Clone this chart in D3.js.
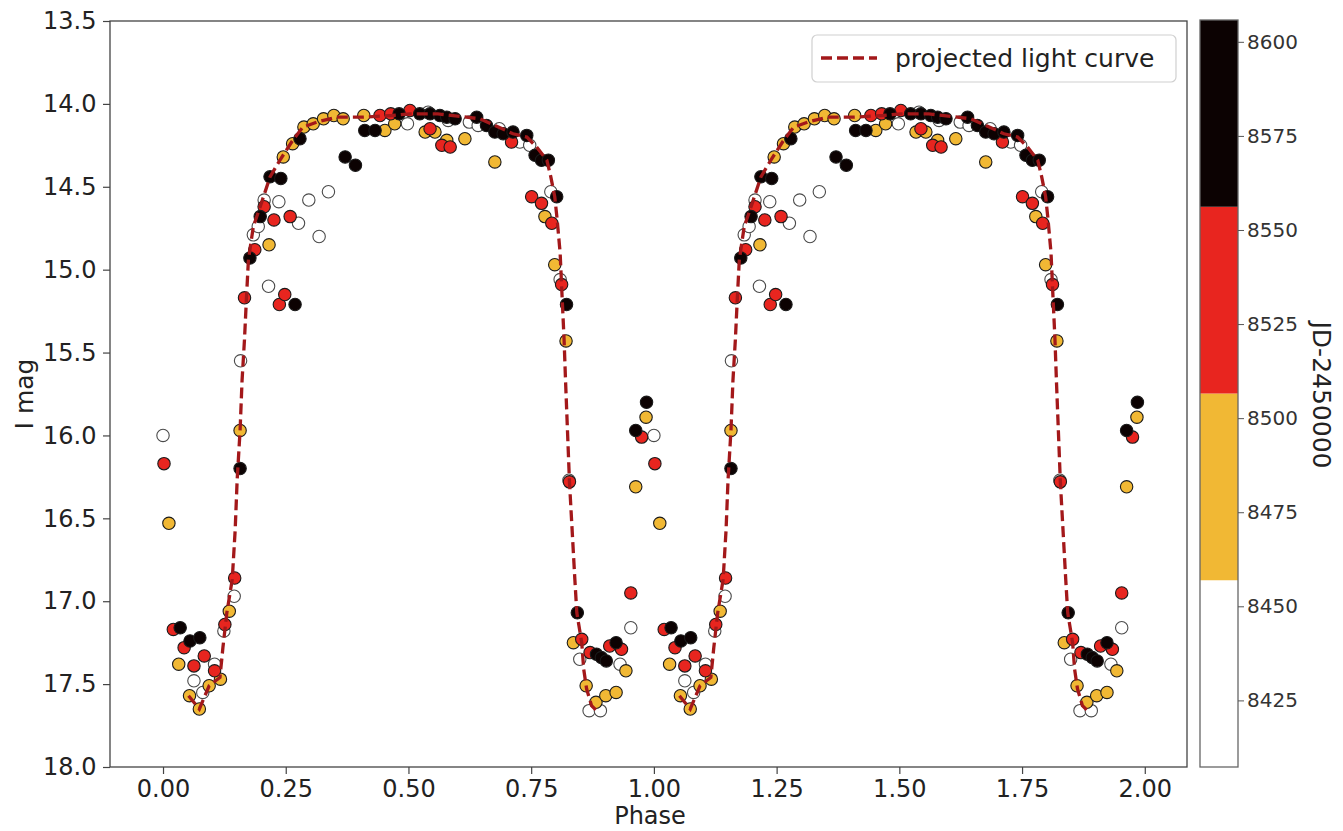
<!DOCTYPE html>
<html><head><meta charset="utf-8">
<script src="https://cdn.jsdelivr.net/npm/d3@7"></script>
<style>body{margin:0;background:#fff;} svg{display:block;font-family:"DejaVu Sans",sans-serif;}</style>
</head><body>
<script>
// ---- data (phase, I mag) for one cycle; the figure repeats it at phase+1 ----
const jdGroups = [8432, 8482, 8531, 8581];
const whitePts = [[0.000,16.00],[0.145,16.97],[0.124,17.18],[0.105,17.38],[0.063,17.48],[0.081,17.55],[0.158,15.55],
 [0.215,15.10],[0.184,14.79],[0.194,14.74],[0.276,14.72],[0.318,14.80],[0.206,14.58],[0.236,14.59],[0.297,14.58],
 [0.337,14.53],[0.498,14.12],[0.540,14.05],[0.581,14.10],[0.624,14.11],[0.642,14.13],[0.685,14.15],[0.727,14.23],
 [0.747,14.25],[0.790,14.53],[0.809,15.06],[0.827,16.27],[0.849,17.35],[0.931,17.38],[0.868,17.66],[0.891,17.66],[0.953,17.16]];
const yellowPts = [[0.012,16.53],[0.157,15.97],[0.135,17.06],[0.032,17.38],[0.117,17.47],[0.094,17.51],[0.054,17.57],
 [0.074,17.65],[0.216,14.85],[0.245,14.32],[0.264,14.24],[0.287,14.14],[0.306,14.12],[0.327,14.09],[0.348,14.07],
 [0.367,14.09],[0.409,14.07],[0.452,14.16],[0.472,14.12],[0.534,14.17],[0.554,14.17],[0.578,14.22],[0.615,14.21],
 [0.676,14.35],[0.778,14.68],[0.798,14.97],[0.821,15.43],[0.836,17.25],[0.963,16.31],[0.984,15.89],[0.862,17.51],
 [0.882,17.61],[0.902,17.57],[0.923,17.55],[0.943,17.42]];
const redPts = [[0.002,16.17],[0.146,16.86],[0.126,17.14],[0.021,17.17],[0.043,17.28],[0.084,17.33],[0.063,17.39],
 [0.105,17.42],[0.166,15.17],[0.237,15.21],[0.248,15.15],[0.187,14.88],[0.226,14.70],[0.259,14.68],[0.206,14.62],
 [0.442,14.07],[0.464,14.06],[0.503,14.04],[0.544,14.15],[0.568,14.25],[0.585,14.26],[0.710,14.23],[0.751,14.56],
 [0.771,14.60],[0.792,14.72],[0.812,15.09],[0.828,16.28],[0.853,17.23],[0.870,17.31],[0.910,17.27],[0.934,17.29],
 [0.975,16.01],[0.953,16.95]];
const blackPts = [[0.157,16.20],[0.035,17.16],[0.055,17.24],[0.075,17.22],[0.177,14.93],[0.198,14.68],[0.269,15.21],
 [0.218,14.44],[0.240,14.45],[0.279,14.21],[0.371,14.32],[0.392,14.37],[0.411,14.16],[0.432,14.16],[0.481,14.06],
 [0.523,14.06],[0.544,14.06],[0.564,14.07],[0.578,14.08],[0.595,14.09],[0.639,14.08],[0.659,14.13],[0.676,14.17],
 [0.693,14.18],[0.713,14.17],[0.741,14.19],[0.758,14.31],[0.771,14.34],[0.785,14.34],[0.802,14.56],[0.822,15.21],
 [0.844,17.07],[0.883,17.32],[0.893,17.34],[0.903,17.36],[0.923,17.25],[0.963,15.97],[0.985,15.80]];
const curvePhase = [0.052,0.074,0.094,0.116,0.122,0.130,0.141,0.147,0.151,0.157,0.161,0.166,0.170,0.174,0.184,0.198,
 0.218,0.238,0.262,0.285,0.313,0.354,0.407,0.468,0.503,0.560,0.646,0.713,0.741,0.761,0.782,0.790,0.798,0.803,0.809,
 0.812,0.817,0.820,0.828,0.839,0.843,0.853,0.857,0.863,0.873,0.883];
const curveMag = [17.57,17.65,17.51,17.46,17.28,17.07,16.87,16.57,16.27,15.97,15.67,15.42,15.17,14.94,14.74,14.62,
 14.44,14.34,14.23,14.14,14.11,14.08,14.08,14.07,14.06,14.06,14.09,14.18,14.20,14.26,14.34,14.44,14.56,14.70,14.90,
 15.10,15.42,15.67,16.28,16.87,17.07,17.25,17.41,17.53,17.63,17.66];
const cycles = [0, 1];
const xTicks = [0,0.25,0.5,0.75,1,1.25,1.5,1.75,2];
const yTicks = [13.5,14,14.5,15,15.5,16,16.5,17,17.5,18];
const cbTicks = [8425,8450,8475,8500,8525,8550,8575,8600];
const cbColors = ["#ffffff","#f1b834","#e8251f","#0c0202"];
const cbDomain = [8407.3, 8605.8];

const W = 1343, H = 831;
const svg = d3.select("body").append("svg").attr("width", W).attr("height", H);
const x = d3.scaleLinear().domain([-0.108, 2.086]).range([110, 1187]);
const y = d3.scaleLinear().domain([13.5, 18]).range([21, 767]);
const color = d3.scaleQuantize().domain(cbDomain).range(cbColors);

// points
const groups = [whitePts, yellowPts, redPts, blackPts];
const allPts = [];
cycles.forEach(c => groups.forEach((g, i) => g.forEach(p => allPts.push({ph: p[0] + c, mag: p[1], jd: jdGroups[i]}))));
allPts.sort((a, b) => a.jd - b.jd);
svg.append("g").selectAll("circle").data(allPts).join("circle")
  .attr("cx", d => x(d.ph)).attr("cy", d => y(d.mag)).attr("r", 6.2)
  .attr("fill", d => color(d.jd))
  .attr("stroke", d => color(d.jd) === "#ffffff" ? "#4a4a4a" : "#1a1a1a")
  .attr("stroke-width", 1.1);

// curve
const line = d3.line().x(d => x(d[0])).y(d => y(d[1]));
cycles.forEach(c => {
  const pts = curvePhase.map((p, i) => [p + c, curveMag[i]]);
  svg.append("path").attr("d", line(pts)).attr("fill", "none")
    .attr("stroke", "#a3181a").attr("stroke-width", 3.3).attr("stroke-dasharray", "11,5");
});

// axes
const xAxis = svg.append("g").attr("transform", "translate(0,767)")
  .call(d3.axisBottom(x).tickValues(xTicks).tickFormat(d3.format(".2f")).tickSize(7).tickSizeOuter(0));
const yAxis = svg.append("g").attr("transform", "translate(110,0)")
  .call(d3.axisLeft(y).tickValues(yTicks).tickFormat(d3.format(".1f")).tickSize(7).tickSizeOuter(0));
[xAxis, yAxis].forEach(a => {
  a.selectAll("text").attr("font-size", 24).attr("fill", "#222").attr("font-family", "DejaVu Sans");
  a.selectAll("line").attr("stroke", "#444").attr("stroke-width", 1.2);
  a.select(".domain").remove();
});
xAxis.selectAll("text").attr("dy", "0.82em");
yAxis.selectAll("text").attr("dx", "-0.15em");
// frame
svg.append("rect").attr("x", 110).attr("y", 21).attr("width", 1077).attr("height", 746)
  .attr("fill", "none").attr("stroke", "#444").attr("stroke-width", 1.3);

// axis labels
svg.append("text").attr("x", 650).attr("y", 824).attr("text-anchor", "middle")
  .attr("font-size", 24).attr("fill", "#222").text("Phase");
svg.append("text").attr("transform", "translate(33,394) rotate(-90)").attr("text-anchor", "middle")
  .attr("font-size", 25).attr("fill", "#222").text("I mag");

// legend
const lg = svg.append("g");
lg.append("rect").attr("x", 812).attr("y", 35).attr("width", 364).attr("height", 47).attr("rx", 5)
  .attr("fill", "#fff").attr("fill-opacity", 0.85).attr("stroke", "#d0d0d0").attr("stroke-width", 1.2);
lg.append("line").attr("x1", 821).attr("x2", 877).attr("y1", 58).attr("y2", 58)
  .attr("stroke", "#a3181a").attr("stroke-width", 3.3).attr("stroke-dasharray", "11,5");
lg.append("text").attr("x", 895).attr("y", 58).attr("dy", "0.35em").attr("font-size", 25)
  .attr("fill", "#222").text("projected light curve");

// colorbar
const cb = d3.scaleLinear().domain(cbDomain).range([767, 20]);
const cbX = 1200, cbW = 38;
const step = (cbDomain[1] - cbDomain[0]) / cbColors.length;
const bins = cbColors.map((c, i) => ({c, lo: cbDomain[0] + i * step, hi: cbDomain[0] + (i + 1) * step}));
svg.append("g").selectAll("rect").data(bins).join("rect")
  .attr("x", cbX).attr("width", cbW).attr("y", d => cb(d.hi)).attr("height", d => cb(d.lo) - cb(d.hi))
  .attr("fill", d => d.c);
svg.append("rect").attr("x", cbX).attr("y", 20).attr("width", cbW).attr("height", 747)
  .attr("fill", "none").attr("stroke", "#666").attr("stroke-width", 1.3);
const cbAxis = svg.append("g").attr("transform", `translate(${cbX + cbW},0)`)
  .call(d3.axisRight(cb).tickValues(cbTicks).tickFormat(d3.format("d")).tickSize(6).tickSizeOuter(0));
cbAxis.select(".domain").remove();
cbAxis.selectAll("text").attr("font-size", 20).attr("fill", "#333").attr("font-family", "DejaVu Sans").attr("x", 9);
cbAxis.selectAll("line").attr("stroke", "#555");
svg.append("text").attr("transform", "translate(1313,395) rotate(90)").attr("text-anchor", "middle")
  .attr("font-size", 25).attr("fill", "#222").text("JD-2450000");
</script>
</body></html>
